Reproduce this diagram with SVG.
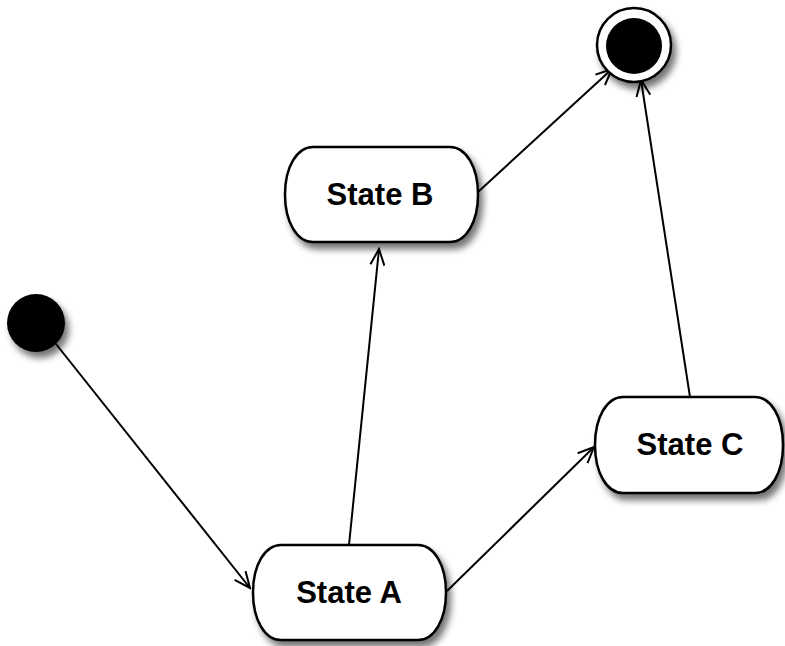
<svg xmlns="http://www.w3.org/2000/svg" width="785" height="646" viewBox="0 0 785 646">
<defs>
<filter id="sh" x="-20%" y="-20%" width="150%" height="150%">
<feGaussianBlur in="SourceAlpha" stdDeviation="3.5"/>
<feOffset dx="4" dy="6" result="b"/>
<feComponentTransfer><feFuncA type="linear" slope="0.55"/></feComponentTransfer>
<feMerge><feMergeNode/><feMergeNode in="SourceGraphic"/></feMerge>
</filter>
<marker id="arr" viewBox="-17 -8 19 16" markerWidth="19" markerHeight="16" refX="0" refY="0" orient="auto" markerUnits="userSpaceOnUse">
<path d="M-16,-7 L0,0 L-16,7" fill="none" stroke="#000" stroke-width="2"/>
</marker>
<style>
.box{fill:#fff;stroke:#000;stroke-width:2.5}
.lbl{font-family:"Liberation Sans",Arial,sans-serif;font-weight:bold;font-size:31px;text-anchor:middle;fill:#000}
.con{fill:none;stroke:#000;stroke-width:2;marker-end:url(#arr)}
</style>
</defs>
<rect width="785" height="646" fill="#fff"/>
<g id="connectors">
<line class="con" x1="56" y1="344" x2="250" y2="588"/>
<line class="con" x1="349" y1="545" x2="379" y2="249"/>
<line class="con" x1="447" y1="591" x2="594" y2="447"/>
<line class="con" x1="478" y1="192" x2="612" y2="69"/>
<line class="con" x1="690" y1="397" x2="641" y2="80"/>
</g>
<g id="initial">
<circle cx="36" cy="323" r="29" fill="#000" filter="url(#sh)"/>
</g>
<g id="final">
<circle cx="634" cy="45" r="37" fill="#fff" stroke="#000" stroke-width="2.5" filter="url(#sh)"/>
<circle cx="634" cy="46" r="28" fill="#000"/>
</g>
<g id="stateB">
<path class="box" filter="url(#sh)" d="M313,147 H450 C466,147 478,167 478,194.5 C478,222 466,242 450,242 H313 C297,242 285,222 285,194.5 C285,167 297,147 313,147 Z"/>
<text class="lbl" x="380" y="205">State B</text>
</g>
<g id="stateA">
<path class="box" filter="url(#sh)" d="M281,545 H418 C434,545 446,565 446,592.5 C446,620 434,640 418,640 H281 C265,640 253,620 253,592.5 C253,565 265,545 281,545 Z"/>
<text class="lbl" x="349" y="603">State A</text>
</g>
<g id="stateC">
<path class="box" filter="url(#sh)" d="M623,397 H755 C771,397 783,417 783,445 C783,473 771,493 755,493 H623 C607,493 595,473 595,445 C595,417 607,397 623,397 Z"/>
<text class="lbl" x="690" y="455">State C</text>
</g>
</svg>
